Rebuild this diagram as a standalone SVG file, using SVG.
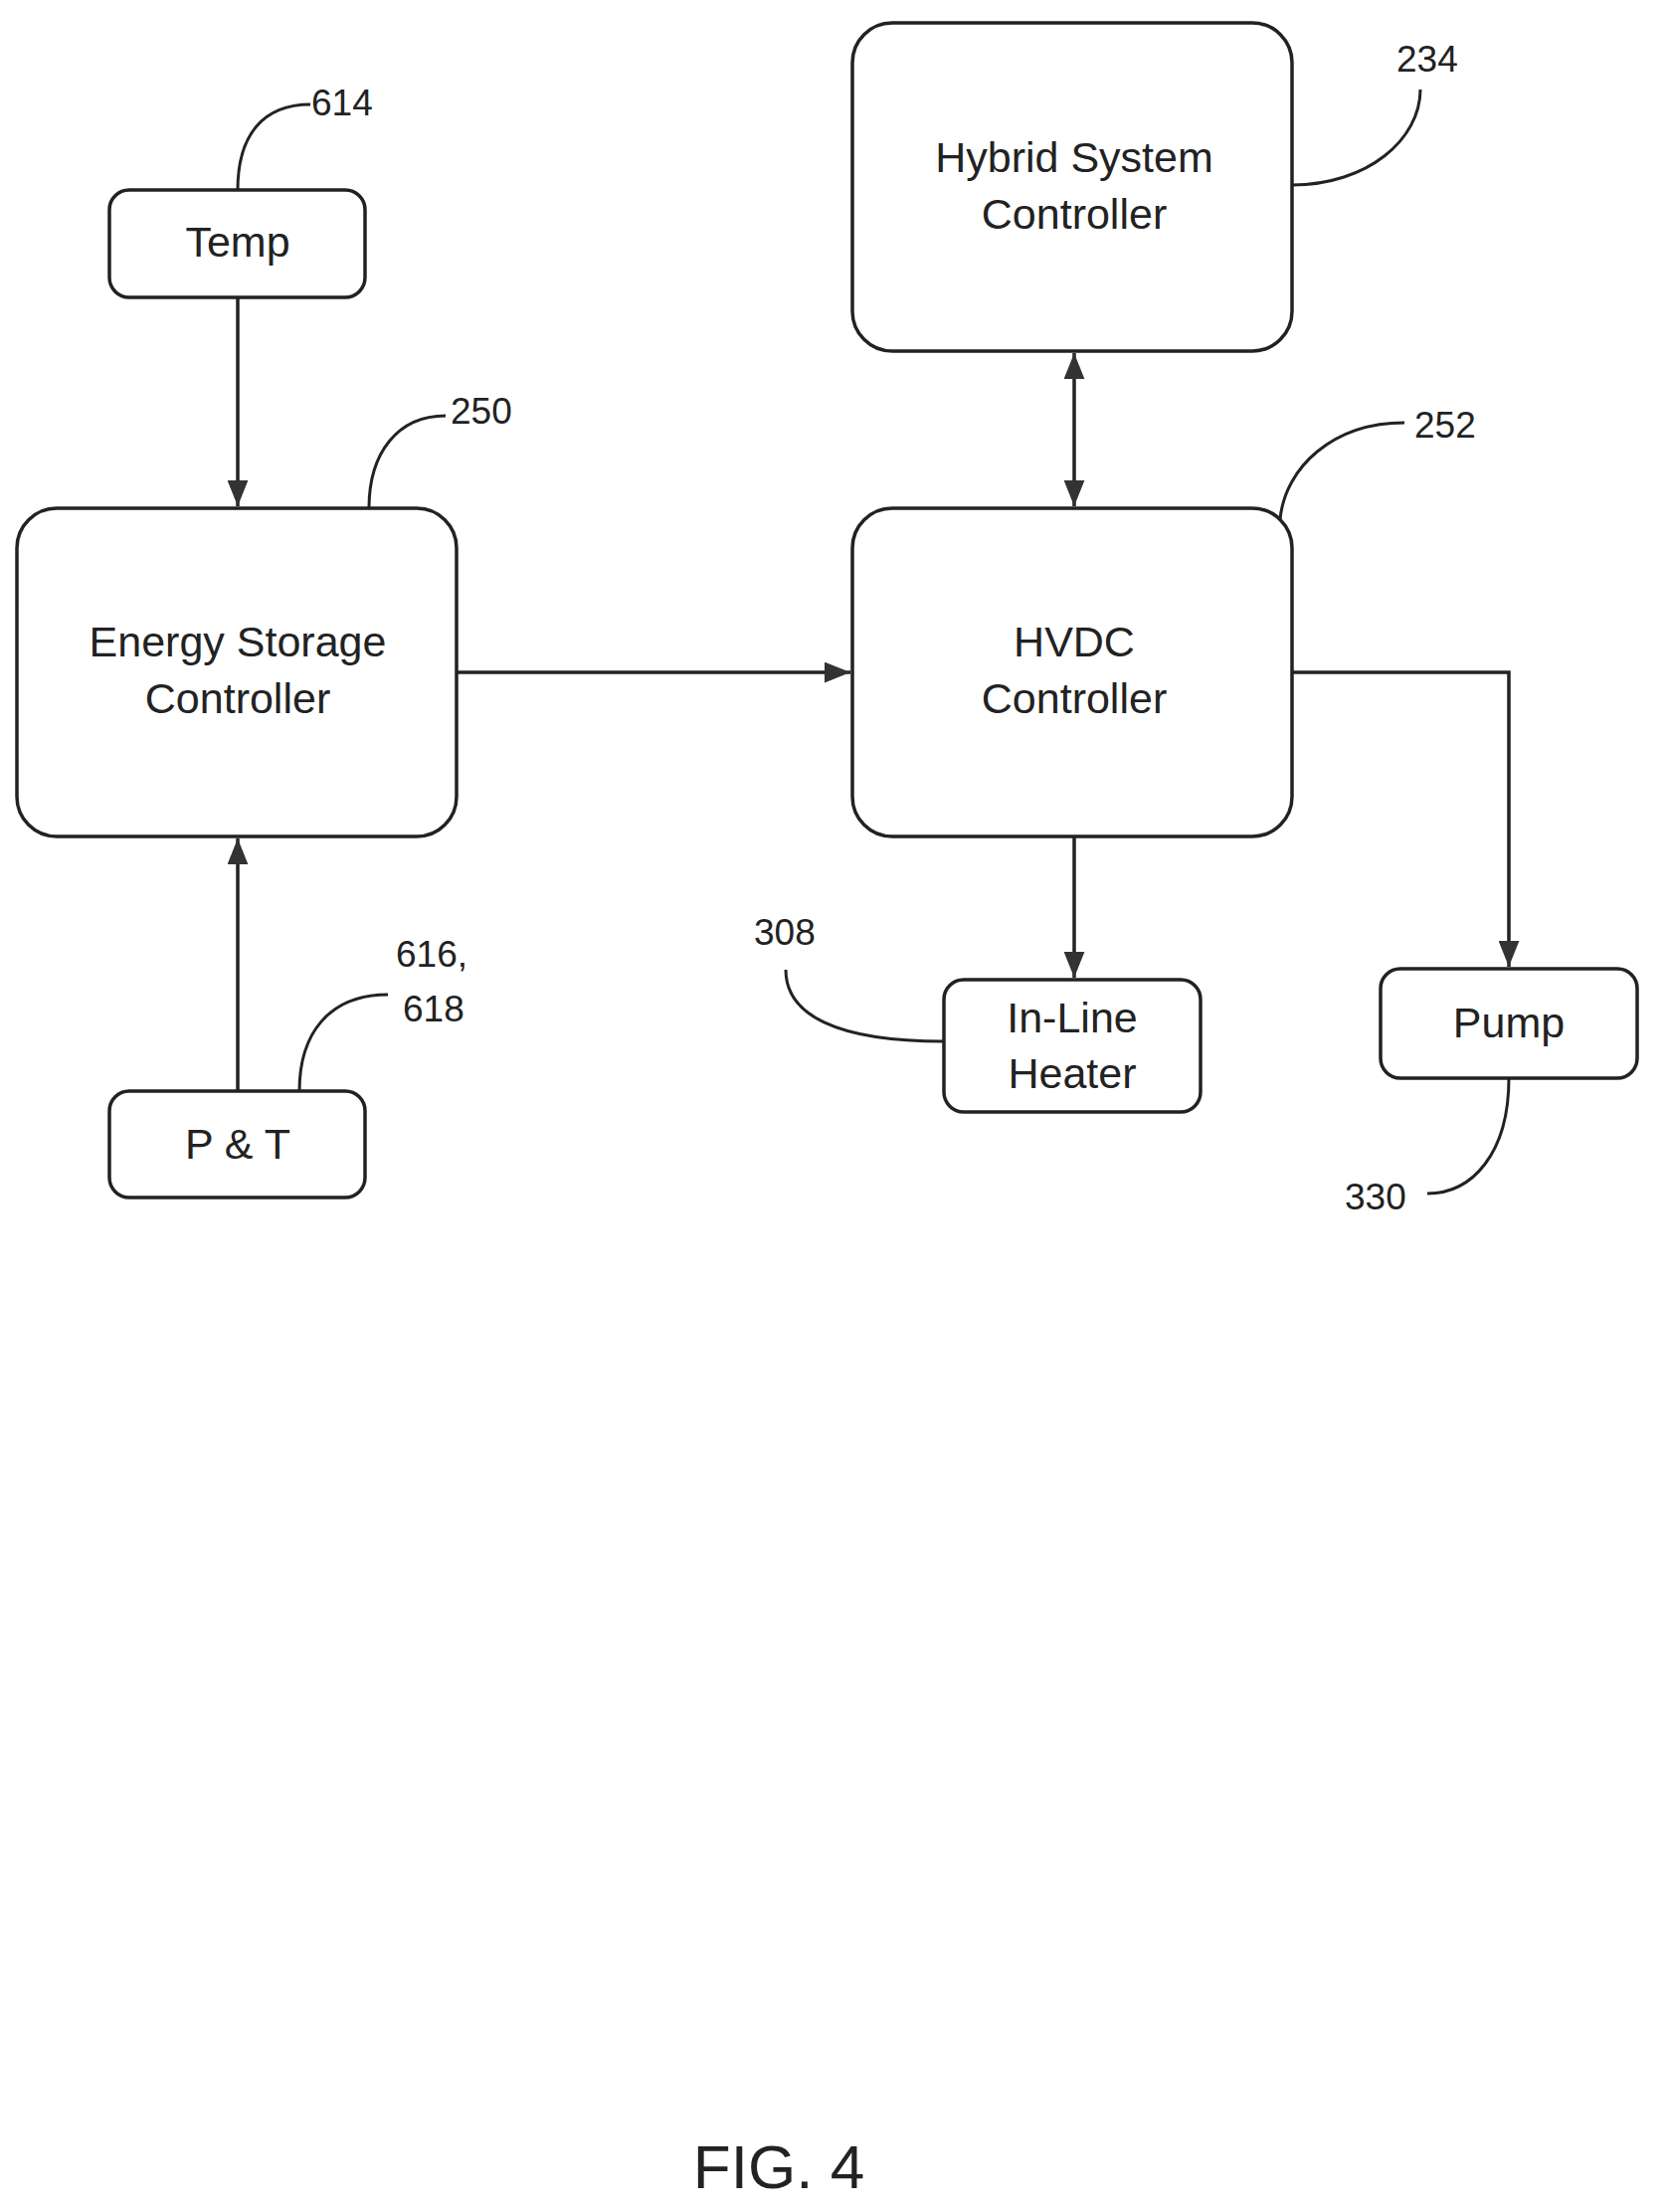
<svg xmlns="http://www.w3.org/2000/svg" width="1677" height="2224" viewBox="0 0 1677 2224">
<style>
.box{fill:#fff;stroke:#222;stroke-width:3.5}
.t{font-family:"Liberation Sans",Arial,sans-serif;font-size:43px;fill:#222;text-anchor:middle}
.n{font-family:"Liberation Sans",Arial,sans-serif;font-size:37px;fill:#222}
.c{fill:none;stroke:#222;stroke-width:3.5}
.l{fill:none;stroke:#222;stroke-width:3}
</style>
<defs>
<marker id="a" markerWidth="26" markerHeight="21" refX="10" refY="4" orient="auto-start-reverse" markerUnits="userSpaceOnUse" viewBox="0 0 10 8"><path d="M0,0L10,4L0,8z" fill="#333"/></marker>
</defs>
<rect width="1677" height="2224" fill="#fff"/>
<g id="connectors">
<line class="c" x1="239" y1="299" x2="239" y2="509" marker-end="url(#a)"/>
<line class="c" x1="239" y1="1097" x2="239" y2="843" marker-end="url(#a)"/>
<line class="c" x1="459" y1="676" x2="855" y2="676" marker-end="url(#a)"/>
<line class="c" x1="1080" y1="355" x2="1080" y2="509" marker-start="url(#a)" marker-end="url(#a)"/>
<line class="c" x1="1080" y1="841" x2="1080" y2="983" marker-end="url(#a)"/>
<polyline class="c" points="1299,676 1517,676 1517,972" marker-end="url(#a)"/>
<path class="l" d="M239,191 C239,135 265,105 312,105"/>
<path class="l" d="M371,511 C371,455 400,418 448,418"/>
<path class="l" d="M1299,186 C1375,186 1428,140 1428,90"/>
<path class="l" d="M1287,522 C1292,470 1340,425 1412,425"/>
<path class="l" d="M790,975 C790,1020 840,1047 949,1047"/>
<path class="l" d="M301,1097 C301,1040 330,1000 390,1000"/>
<path class="l" d="M1517,1084 C1517,1160 1480,1200 1435,1200"/>
</g>
<g id="temp"><rect class="box" x="110" y="191" width="257" height="108" rx="20"/><text class="t" x="239" y="258">Temp</text></g>
<g id="esc"><rect class="box" x="17" y="511" width="442" height="330" rx="40"/><text class="t" x="239" y="660">Energy Storage</text><text class="t" x="239" y="717">Controller</text></g>
<g id="hsc"><rect class="box" x="857" y="23" width="442" height="330" rx="40"/><text class="t" x="1080" y="173">Hybrid System</text><text class="t" x="1080" y="230">Controller</text></g>
<g id="hvdc"><rect class="box" x="857" y="511" width="442" height="330" rx="40"/><text class="t" x="1080" y="660">HVDC</text><text class="t" x="1080" y="717">Controller</text></g>
<g id="heater"><rect class="box" x="949" y="985" width="258" height="133" rx="20"/><text class="t" x="1078" y="1038">In-Line</text><text class="t" x="1078" y="1094">Heater</text></g>
<g id="pump"><rect class="box" x="1388" y="974" width="258" height="110" rx="20"/><text class="t" x="1517" y="1043">Pump</text></g>
<g id="pt"><rect class="box" x="110" y="1097" width="257" height="107" rx="20"/><text class="t" x="239" y="1165">P &amp; T</text></g>
<g id="labels">
<text class="n" x="313" y="116">614</text>
<text class="n" x="453" y="426">250</text>
<text class="n" x="1404" y="72">234</text>
<text class="n" x="1422" y="440">252</text>
<text class="n" x="758" y="950">308</text>
<text class="n" x="398" y="972">616,</text>
<text class="n" x="405" y="1027">618</text>
<text class="n" x="1352" y="1216">330</text>
<text class="t" x="783" y="2200" style="font-size:62px">FIG. 4</text>
</g>
</svg>
